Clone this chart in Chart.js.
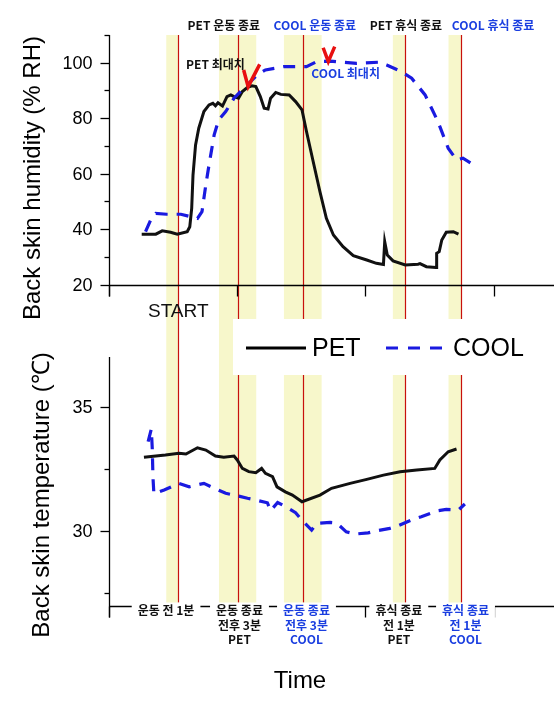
<!DOCTYPE html>
<html>
<head>
<meta charset="utf-8">
<script src="https://cdn.jsdelivr.net/npm/chart.js@4.4.1/dist/chart.umd.min.js"></script>
<style>
  html, body { margin: 0; padding: 0; background: #fff; }
</style>
</head>
<body>
<canvas id="skinChart" width="554" height="713"></canvas>
<script>
// time axis is unitless here, ticks every 20
const petHumTime = [5.1, 7.3, 8.3, 9.6, 10.65, 12.2, 12.6, 12.9, 13.1, 13.5, 14.0, 14.8, 15.6, 16.2, 16.6, 17.0, 17.7, 18.4, 19.0, 19.5,
  20.2, 20.8, 21.6, 22.3, 22.9, 23.6, 24.2, 24.8, 25.2, 26.0, 26.8, 28.1, 29.1, 30.1, 30.8, 31.85, 32.9, 33.9, 35.0, 36.5,
  38.1, 40.2, 41.7, 42.8, 43.0, 43.4, 44.3, 46.2, 48.2, 48.5, 49.5, 51.0, 51.1, 51.5, 51.9, 52.6, 53.7, 54.5];
const petHum = [38.2, 38.2, 39.4, 38.9, 38.2, 39.1, 40.9, 47.6, 59.5, 70.4, 76.4, 82.4, 84.8, 85.4, 84.5, 85.6, 84.4, 87.8, 88.4, 87.8,
  87.2, 89.6, 91.1, 91.7, 91.4, 87.8, 83.6, 83.3, 87.2, 89.3, 88.6, 88.4, 86.0, 83.0, 75.2, 64.3, 53.5, 43.9, 37.9, 33.7,
  30.5, 28.9, 27.7, 27.3, 35.5, 30.7, 28.6, 27.1, 27.4, 27.6, 26.5, 26.2, 31.3, 31.9, 36.1, 38.9, 39.1, 38.2];

const coolHumTime = [5.7, 6.5, 7.3, 9.0, 11.2, 12.8, 13.8, 14.5, 15.1, 15.6, 16.4, 17.1, 18.2, 19.5, 20.5, 21.8, 23.1, 24.4, 27.3, 30.8,
  32.4, 34.5, 38.6, 42.2, 43.3, 45.6, 47.2, 49.3, 51.3, 52.9, 54.2, 55.2, 57.3];
const coolHum = [39.1, 43.3, 45.7, 45.4, 45.4, 44.5, 43.9, 46.3, 56.0, 63.2, 74.0, 79.4, 82.4, 87.2, 89.6, 92.6, 95.6, 97.4, 98.6, 98.6,
  100.4, 100.6, 99.8, 100.2, 99.2, 96.8, 94.4, 88.4, 78.8, 69.2, 65.0, 65.6, 62.5];

const petTempTime = [5.45, 8.8, 10.9, 12.0, 13.8, 15.1, 16.6, 17.9, 19.5, 20.0, 20.8, 21.8, 22.9, 23.8, 24.4, 25.5, 26.2, 27.5, 28.6, 30.1,
  32.9, 34.7, 37.6, 40.2, 42.8, 45.4, 48.0, 50.8, 51.6, 52.9, 54.2];
const petTemp = [32.97, 33.06, 33.13, 33.1, 33.35, 33.26, 33.02, 32.97, 33.02, 32.86, 32.52, 32.39, 32.35, 32.52, 32.32, 32.19, 31.78, 31.58, 31.45, 31.18,
  31.45, 31.72, 31.92, 32.08, 32.25, 32.39, 32.46, 32.52, 32.86, 33.19, 33.3];

const coolTempTime = [6.1, 6.6, 6.75, 6.85, 7.0, 8.6, 10.9, 12.5, 14.8, 16.1, 18.2, 19.5, 21.6, 22.9, 24.7, 25.2, 26.3, 27.8, 29.1, 30.1,
  31.6, 32.4, 34.5, 35.5, 37.0, 38.4, 40.4, 41.7, 43.8, 45.1, 47.4, 48.7, 51.1, 52.6, 54.5, 55.5];
const coolTemp = [33.6, 34.1, 33.3, 32.2, 31.5, 31.65, 31.92, 31.78, 31.92, 31.76, 31.52, 31.45, 31.32, 31.25, 31.14, 30.82, 31.15, 30.95, 30.74, 30.44,
  30.04, 30.31, 30.35, 30.33, 29.97, 29.88, 29.93, 30.01, 30.11, 30.22, 30.47, 30.58, 30.81, 30.87, 30.85, 31.09];

// red check marks at the maxima
const petMaxMarkTime = [21.0, 21.7, 23.5];
const petMaxMark = [97.4, 91.4, 99.4];
const coolMaxMarkTime = [33.4, 34.2, 35.2];
const coolMaxMark = [105.4, 100.4, 105.8];

// event markers (red lines) and shaded windows
const eventTimes = [10.8, 20.16, 30.3, 46.2, 54.9];
const bandStart = [8.93, 17.15, 27.28, 44.27, 52.95];
const bandEnd = [10.8, 22.96, 33.16, 46.19, 54.92];

const timeTicks = [0, 20, 40, 60];
const humMajor = [20, 40, 60, 80, 100];
const humMinor = [30, 50, 70, 90, 110];
const tempMajor = [30, 35];
const tempMinor = [27.5, 32.5];

const topLabels = [
  { t: 'PET 운동 종료', x: 17.9, c: '#111' },
  { t: 'COOL 운동 종료', x: 32.1, c: '#1a3ee0' },
  { t: 'PET 휴식 종료', x: 46.3, c: '#111' },
  { t: 'COOL 휴식 종료', x: 59.9, c: '#1a3ee0' },
];
const bottomLabels = [
  { t: ['운동 전 1분'], x: 8.9, c: '#111' },
  { t: ['운동 종료', '전후 3분', 'PET'], x: 20.35, c: '#111' },
  { t: ['운동 종료', '전후 3분', 'COOL'], x: 30.8, c: '#1a3ee0' },
  { t: ['휴식 종료', '전 1분', 'PET'], x: 45.2, c: '#111' },
  { t: ['휴식 종료', '전 1분', 'COOL'], x: 55.6, c: '#1a3ee0' },
];

const ARIAL = '"Liberation Sans", Arial, sans-serif';
const KR = '"Noto Sans CJK KR", sans-serif';

function pts(xs, ys) {
  return xs.map((x, i) => ({ x: x, y: ys[i] }));
}

function seg(ctx, x1, y1, x2, y2) {
  ctx.beginPath();
  ctx.moveTo(x1, y1);
  ctx.lineTo(x2, y2);
  ctx.stroke();
}

const decorPlugin = {
  id: 'decor',
  beforeDatasetsDraw(chart) {
    const ctx = chart.ctx;
    const area = chart.chartArea;
    const xs = chart.scales.x;
    ctx.save();
    ctx.fillStyle = '#f7f7cb';
    bandStart.forEach((b, i) => {
      const x1 = xs.getPixelForValue(b);
      const x2 = xs.getPixelForValue(bandEnd[i]);
      ctx.fillRect(x1, area.top, x2 - x1, area.bottom - area.top - 2);
    });
    ctx.strokeStyle = '#c8100c';
    ctx.lineWidth = 1.2;
    eventTimes.forEach((t) => {
      const x = Math.round(xs.getPixelForValue(t)) + 0.5;
      seg(ctx, x, area.top, x, area.bottom - 3);
    });
    // legend box
    ctx.fillStyle = '#fff';
    ctx.fillRect(233, 319, 554 - 233, 56);
    ctx.restore();
  },
  afterDraw(chart) {
    const ctx = chart.ctx;
    const xs = chart.scales.x;
    const yH = chart.scales.yH;
    const yT = chart.scales.yT;
    const x0 = Math.round(xs.getPixelForValue(0)) + 0.5;
    const right = chart.width;
    ctx.save();
    ctx.strokeStyle = '#000';
    ctx.fillStyle = '#000';
    ctx.lineWidth = 1.3;

    // humidity panel axes
    const hTop = yH.getPixelForValue(110);
    const hBase = Math.round(yH.getPixelForValue(20)) + 0.5;
    seg(ctx, x0, hTop, x0, hBase + 11);
    seg(ctx, x0, hBase, right, hBase);
    ctx.font = '18px ' + ARIAL;
    ctx.textAlign = 'right';
    ctx.textBaseline = 'middle';
    humMajor.forEach((v) => {
      const y = Math.round(yH.getPixelForValue(v)) + 0.5;
      seg(ctx, x0 - 9, y, x0, y);
      ctx.fillText(String(v), x0 - 17, y + 1);
    });
    humMinor.forEach((v) => {
      const y = Math.round(yH.getPixelForValue(v)) + 0.5;
      seg(ctx, x0 - 5, y, x0, y);
    });
    timeTicks.forEach((t) => {
      const x = Math.round(xs.getPixelForValue(t)) + 0.5;
      seg(ctx, x, hBase, x, hBase + 11);
    });

    // temperature panel axes
    const tTop = yT.getPixelForValue(37);
    const tBase = Math.round(yT.getPixelForValue(27)) + 0.5;
    seg(ctx, x0, tTop, x0, tBase + 11);
    seg(ctx, x0, tBase, right, tBase);
    tempMajor.forEach((v) => {
      const y = Math.round(yT.getPixelForValue(v)) + 0.5;
      seg(ctx, x0 - 9, y, x0, y);
      ctx.fillText(String(v), x0 - 17, y + 1);
    });
    tempMinor.forEach((v) => {
      const y = Math.round(yT.getPixelForValue(v)) + 0.5;
      seg(ctx, x0 - 5, y, x0, y);
    });
    timeTicks.forEach((t) => {
      const x = Math.round(xs.getPixelForValue(t)) + 0.5;
      seg(ctx, x, tBase, x, tBase + 11);
    });

    // bottom event labels sit on the axis with a white backing
    ctx.textAlign = 'center';
    ctx.font = 'bold 12px ' + KR;
    bottomLabels.forEach((lab) => {
      const cx = xs.getPixelForValue(lab.x);
      const w = Math.max(...lab.t.map((s) => ctx.measureText(s).width));
      ctx.fillStyle = '#fff';
      ctx.fillRect(cx - w / 2 - 6, tBase - 4, w + 12, 14 * lab.t.length + 6);
      ctx.fillStyle = lab.c;
      lab.t.forEach((s, i) => ctx.fillText(s, cx, tBase + 4 + i * 14.6));
    });

    // top event labels
    topLabels.forEach((lab) => {
      ctx.fillStyle = lab.c;
      ctx.fillText(lab.t, xs.getPixelForValue(lab.x), 25);
    });
    ctx.fillStyle = '#111';
    ctx.fillText('PET 최대치', xs.getPixelForValue(16.6), yH.getPixelForValue(99.5));
    ctx.fillStyle = '#1a3ee0';
    ctx.fillText('COOL 최대치', xs.getPixelForValue(36.9), yH.getPixelForValue(96.1));

    // START
    ctx.fillStyle = '#111';
    ctx.font = '19px ' + ARIAL;
    ctx.fillText('START', xs.getPixelForValue(10.8), 312);

    // legend
    ctx.lineWidth = 3;
    ctx.strokeStyle = '#000';
    seg(ctx, 246, 348, 306, 348);
    ctx.strokeStyle = '#1a1ae0';
    ctx.setLineDash([12, 10]);
    seg(ctx, 386, 348, 448, 348);
    ctx.setLineDash([]);
    ctx.fillStyle = '#000';
    ctx.textAlign = 'left';
    ctx.font = '25px ' + ARIAL;
    ctx.fillText('PET', 312, 349);
    ctx.fillText('COOL', 453, 349);

    // axis titles
    ctx.textAlign = 'center';
    ctx.font = '24px ' + ARIAL;
    ctx.fillText('Time', 300, 681);
    ctx.save();
    ctx.translate(33, 178);
    ctx.rotate(-Math.PI / 2);
    ctx.fillText('Back skin humidity (% RH)', 0, 0);
    ctx.restore();
    ctx.save();
    ctx.translate(42, 495);
    ctx.rotate(-Math.PI / 2);
    ctx.fillText('Back skin temperature (\u2103)', 0, 0);
    ctx.restore();

    ctx.restore();
  },
};

const ctx = document.getElementById('skinChart').getContext('2d');
new Chart(ctx, {
  type: 'line',
  data: {
    datasets: [
      {
        label: 'PET max', data: pts(petMaxMarkTime, petMaxMark), yAxisID: 'yH', order: -1,
        borderColor: '#e81010', borderWidth: 3.5,
      },
      {
        label: 'COOL max', data: pts(coolMaxMarkTime, coolMaxMark), yAxisID: 'yH', order: -1,
        borderColor: '#e81010', borderWidth: 3.5,
      },
      {
        label: 'COOL', data: pts(coolHumTime, coolHum), yAxisID: 'yH', order: 0,
        borderColor: '#1a1ae0', borderWidth: 3.2, borderDash: [12, 9],
      },
      {
        label: 'PET', data: pts(petHumTime, petHum), yAxisID: 'yH', order: 1,
        borderColor: '#111', borderWidth: 3,
      },
      {
        label: 'COOL', data: pts(coolTempTime, coolTemp), yAxisID: 'yT', order: 0,
        borderColor: '#1a1ae0', borderWidth: 3.2, borderDash: [12, 9],
      },
      {
        label: 'PET', data: pts(petTempTime, petTemp), yAxisID: 'yT', order: 1,
        borderColor: '#111', borderWidth: 3,
      },
    ],
  },
  options: {
    responsive: false,
    animation: false,
    layout: { padding: { left: 109, top: 35, right: 0, bottom: 107.3 } },
    elements: { point: { radius: 0 }, line: { tension: 0, fill: false } },
    plugins: { legend: { display: false }, tooltip: { enabled: false } },
    scales: {
      x: { type: 'linear', min: 0, max: 69.4, display: false },
      yH: { type: 'linear', min: -95.7, max: 110, display: false },
      yT: { type: 'linear', min: 27, max: 49.95, display: false },
    },
  },
  plugins: [decorPlugin],
});
</script>
</body>
</html>
